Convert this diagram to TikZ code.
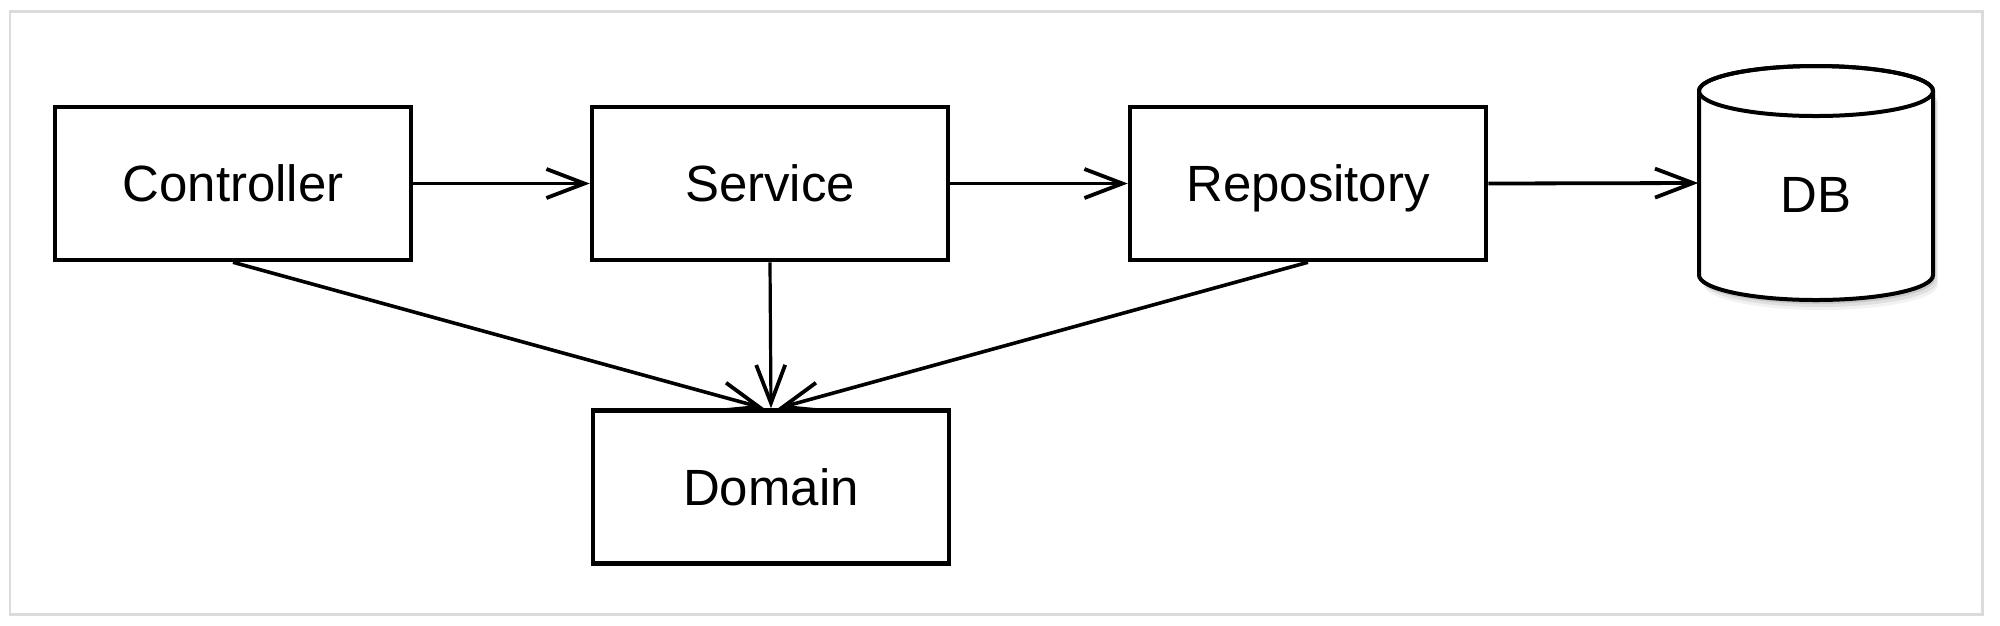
\documentclass[tikz,border=0pt]{standalone}
\usepackage{fontspec}
\setmainfont{Liberation Sans}
\usetikzlibrary{arrows.meta}
\begin{document}
\begin{tikzpicture}[x=0.1mm,y=-0.1mm,
  layerbox/.style={draw=black, line width=0.45mm, fill=white, minimum width=35.6mm, minimum height=15.3mm, inner sep=0pt, text height=10.4pt, text depth=0pt, font=\fontsize{14.5}{17}\selectfont},
  dep/.style={line width=0.38mm, -{Straight Barb[length=3.8mm,width=2.9mm,line width=0.38mm]}},
  cylline/.style={line width=0.4mm, draw=black}]
\useasboundingbox (0,0) rectangle (2000,625);
\fill[white] (0,0) rectangle (2000,625);
\draw[black!14, line width=0.3mm] (10,11) rectangle (1982,614);

\node[layerbox] (ctrl) at (233,183.5) {Controller};
\node[layerbox] (svc) at (770,183.5) {Service};
\node[layerbox] (repo) at (1308,183.5) {Repository};
\node[layerbox] (dom) at (771,487) {Domain};

% DB cylinder
\node[minimum width=23.4mm, minimum height=23.4mm, inner sep=0pt] (db) at (1816,183) {};
\foreach \dx/\dy/\op in {5/10/0.05, 4/7/0.07, 2/4/0.10} {
  \fill[black, opacity=\op] (1699+\dx,91+\dy) -- (1699+\dx,275+\dy) arc[start angle=180, end angle=360, x radius=11.7mm, y radius=2.5mm] -- (1933+\dx,91+\dy) -- cycle;
}
\filldraw[cylline, fill=white] (1699,91) -- (1699,275) arc[start angle=180, end angle=360, x radius=11.7mm, y radius=2.5mm] -- (1933,91) arc[start angle=0, end angle=180, x radius=11.7mm, y radius=2.5mm] -- cycle;
\draw[cylline] (1816,91) ellipse[x radius=11.7mm, y radius=2.5mm];
\node[font=\fontsize{14.5}{17}\selectfont, text height=10.4pt, text depth=0pt, inner sep=0pt] (dblabel) at (1816,194) {DB};

\draw[dep] (ctrl) -- (svc);
\draw[dep] (svc) -- (repo);
\draw[dep] (repo.east) -- (db.west);
\draw[dep, line width=0.32mm] (svc.south) -- (dom.north);
\draw[dep, line width=0.36mm] (ctrl.south) -- ([xshift=-0.7mm]dom.north);
\draw[dep, line width=0.36mm] (repo.south) -- ([xshift=0.7mm]dom.north);
\end{tikzpicture}
\end{document}
